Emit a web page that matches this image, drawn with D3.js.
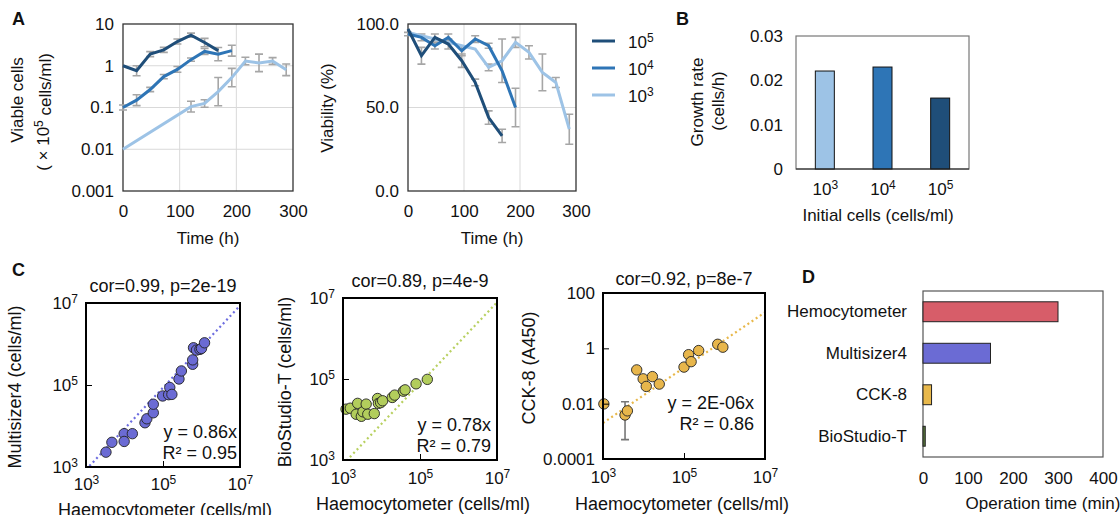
<!DOCTYPE html>
<html lang="en">
<head>
<meta charset="utf-8">
<title>Cell counting figure</title>
<script src="https://d3js.org/d3.v7.min.js"></script>
<style>
  body { margin: 0; background: #fff; }
  svg text { font-family: "Liberation Sans", Arial, sans-serif; fill: #111; }
  .tick line { stroke: #000; }
</style>
</head>
<body>
<div id="fig"></div>
<script>
// ---- panel A: growth curves ----
const timesA = [0, 24, 48, 72, 96, 120, 144, 168, 192, 216, 240, 264, 288];
const viableT5 = [0, 24, 48, 72, 96, 120, 144, 168];
const viable5 = [1.0, 0.76, 1.9, 2.4, 3.8, 5.4, 3.6, 2.3];
const viable5Err = [0, 0.12, 0.06, 0.06, 0.06, 0.05, 0.1, 0];      // log10 half-width
const viableT4 = [0, 24, 48, 72, 96, 120, 144, 168, 192];
const viable4 = [0.1, 0.15, 0.27, 0.55, 0.82, 1.4, 2.2, 1.9, 2.3];
const viable4Err = [0.06, 0.13, 0.05, 0.05, 0.07, 0.04, 0.07, 0.16, 0.13];
const viableT3 = [0, 120, 144, 168, 192, 216, 240, 264, 288];
const viable3 = [0.01, 0.105, 0.125, 0.24, 0.52, 1.3, 1.17, 1.3, 0.8];
const viable3Err = [0, 0.13, 0.09, 0.34, 0.22, 0.09, 0.21, 0.08, 0.14];

const viab5 = [97, 81, 92, 88, 78, 65, 44, 33];
const viab5Err = [0, 5, 2, 3, 4, 2, 4, 4];
const viab4 = [94, 92, 87, 92, 84, 91, 87, 72, 50];
const viab4Err = [1, 2, 2, 2, 3, 2, 1.5, 0, 11.5];
const viab3 = [95, 93, 91, 89, 87, 85, 74, 78, 89, 83, 71, 65, 37];
const viab3Err = [0, 0, 0, 0, 0, 0, 2, 13, 3, 4, 11, 3, 9];

const logTicksA = [0.001, 0.01, 0.1, 1, 10];
const logLabelsA = ["0.001", "0.01", "0.1", "1", "10"];
const timeTicks = [0, 100, 200, 300];
const viabTicks = [0, 50, 100];
const legendExp = ["5", "4", "3"];

// ---- panel B: growth rate ----
const initCells = ["3", "4", "5"];
const growthRate = [0.0221, 0.023, 0.016];
const rateTicks = [0, 0.01, 0.02, 0.03];
const rateLabels = ["0", "0.01", "0.02", "0.03"];

// ---- panel C: method comparison ----
const multiX = [3.3e3, 4.7e3, 9.8e3, 9.8e3, 1.6e4, 3.4e4, 3.8e4, 5.6e4, 5.6e4, 9.8e4, 1.4e5,
                1.5e5, 1.7e5, 2.6e5, 3.0e5, 5.9e5, 5.9e5, 6.2e5, 7.4e5, 9.1e5, 1.0e6, 1.2e6];
const multiY = [2.3e3, 4.0e3, 6.5e3, 4.2e3, 6.5e3, 1.2e4, 1.5e4, 2.1e4, 3.4e4, 5.4e4, 5.8e4,
                8.7e4, 5.9e4, 1.4e5, 2.2e5, 3.2e5, 4.1e5, 8.1e5, 7.1e5, 7.4e5, 7.8e5, 1.07e6];
const bioX = [1.2e3, 1.55e3, 2.2e3, 2.4e3, 3.0e3, 3.3e3, 4.0e3, 4.4e3, 6.5e3, 7.9e3,
              8.3e3, 9.5e3, 1.07e4, 1.9e4, 2.2e4, 3.7e4, 4.1e4, 7.9e4, 1.55e5];
const bioY = [1.8e4, 1.9e4, 1.35e4, 2.5e4, 1.2e4, 1.55e4, 2.4e4, 1.35e4, 1.4e4, 3.3e4,
              2.5e4, 2.6e4, 2.9e4, 3.5e4, 4.0e4, 5.0e4, 5.4e4, 7.6e4, 9.8e4];
const cckX = [1.05e3, 3.5e3, 4.0e3, 6.8e3, 9.8e3, 1.17e4, 1.66e4, 2.45e4, 1.0e5, 1.3e5,
              1.5e5, 2.3e5, 6.8e5, 9.1e5];
const cckY = [0.0098, 0.0039, 0.0055, 0.166, 0.079, 0.042, 0.095, 0.051, 0.21, 0.59,
              0.33, 0.83, 1.4, 1.1];
const cckErrLo = [null, 0.0005, null, null, null, null, null, null, null, null, null, null, null, null];
const cckErrHi = [null, 0.0118, null, null, null, null, null, null, null, null, null, null, null, null];
const slopes = [0.86, 0.78, 2e-6];
const cellTicks = [1e3, 1e5, 1e7];
const cellExp = ["3", "5", "7"];
const cckTicks = [1e-4, 1e-2, 1, 100];
const cckLabels = ["0.0001", "0.01", "1", "100"];

// ---- panel D: operation time ----
const methods = ["Hemocytometer", "Multisizer4", "CCK-8", "BioStudio-T"];
const opTime = [300, 150, 19, 5];
const opTicks = [0, 100, 200, 300, 400];

const blues = {"5": "#1f4e79", "4": "#2e75b6", "3": "#9dc3e6"};
const methodColor = ["#d75d69", "#6b6bd4", "#e8b84b", "#5a7a3c"];

const svg = d3.select("#fig").append("svg")
  .attr("width", 1120).attr("height", 515)
  .style("font-size", "17px");

const FS = 17;

function letter(x, y, t) {
  svg.append("text").attr("x", x).attr("y", y).text(t)
    .style("font-weight", "bold").style("font-size", "18px");
}

function sup(textSel, base, exp) {
  textSel.text(null);
  textSel.append("tspan").text(base);
  textSel.append("tspan").text(exp).attr("dy", "-0.5em").style("font-size", "12px");
}

function yTitle(x, y, lines) {
  const t = svg.append("text")
    .attr("transform", `translate(${x},${y}) rotate(-90)`)
    .attr("text-anchor", "middle").attr("dy", "0.35em");
  lines(t);
}

// =================== A left ===================
const xA1 = d3.scaleLinear().domain([0, 300]).range([123, 293]);
const yA1 = d3.scaleLog().domain([0.001, 10]).range([191, 24]);

const gA1 = svg.append("g");
gA1.selectAll("line.hg").data(logTicksA.slice(1, -1)).join("line")
  .attr("x1", 123).attr("x2", 293).attr("y1", d => yA1(d)).attr("y2", d => yA1(d))
  .attr("stroke", "#d9d9d9");
gA1.selectAll("line.vg").data(timeTicks.slice(1, -1)).join("line")
  .attr("y1", 24).attr("y2", 191).attr("x1", d => xA1(d)).attr("x2", d => xA1(d))
  .attr("stroke", "#d9d9d9");
gA1.append("rect").attr("x", 123).attr("y", 24).attr("width", 170).attr("height", 167)
  .attr("fill", "none").attr("stroke", "#333").attr("stroke-width", 1.3);

gA1.append("g").attr("transform", "translate(123,0)")
  .call(d3.axisLeft(yA1).tickValues(logTicksA).tickFormat((d, i) => logLabelsA[i]).tickSize(0).tickPadding(9))
  .call(g => g.select(".domain").remove())
  .selectAll("text").style("font-size", FS + "px").attr("fill", "#111");
gA1.append("g").attr("transform", "translate(0,191)")
  .call(d3.axisBottom(xA1).tickValues(timeTicks).tickSize(0).tickPadding(14))
  .call(g => g.select(".domain").remove())
  .selectAll("text").style("font-size", FS + "px").attr("fill", "#111");

const lineA1 = d3.line().x(d => xA1(d[0])).y(d => yA1(d[1]));
const seriesA1 = [
  {k: "3", t: viableT3, v: viable3, e: viable3Err},
  {k: "4", t: viableT4, v: viable4, e: viable4Err},
  {k: "5", t: viableT5, v: viable5, e: viable5Err}
];
seriesA1.forEach(s => {
  s.t.forEach((t, i) => {
    if (!s.e[i]) return;
    const x = xA1(t), lo = yA1(s.v[i] / Math.pow(10, s.e[i])), hi = yA1(s.v[i] * Math.pow(10, s.e[i]));
    gA1.append("path").attr("d", `M${x},${lo}V${hi}M${x - 4},${lo}H${x + 4}M${x - 4},${hi}H${x + 4}`)
      .attr("stroke", "#a6a6a6").attr("stroke-width", 1.6).attr("fill", "none");
  });
});
seriesA1.forEach(s => {
  gA1.append("path").datum(s.t.map((t, i) => [t, s.v[i]])).attr("d", lineA1)
    .attr("fill", "none").attr("stroke", blues[s.k]).attr("stroke-width", 3);
});

svg.append("text").attr("x", xA1(150)).attr("y", 244).attr("text-anchor", "middle").text("Time (h)");
yTitle(17, 100, t => t.text("Viable cells"));
yTitle(43, 112, t => {
  t.append("tspan").text("( \u00d7 10");
  t.append("tspan").text("5").attr("dy", "-0.5em").style("font-size", "12px");
  t.append("tspan").text(" cells/ml)").attr("dy", "0.5em");
});
letter(12, 25, "A");

// =================== A right ===================
const xA2 = d3.scaleLinear().domain([0, 300]).range([408, 576]);
const yA2 = d3.scaleLinear().domain([0, 100]).range([191, 24]);
const gA2 = svg.append("g");
gA2.append("line").attr("x1", 408).attr("x2", 576).attr("y1", yA2(50)).attr("y2", yA2(50)).attr("stroke", "#d9d9d9");
gA2.selectAll("line.vg").data(timeTicks.slice(1, -1)).join("line")
  .attr("y1", 24).attr("y2", 191).attr("x1", d => xA2(d)).attr("x2", d => xA2(d)).attr("stroke", "#d9d9d9");
gA2.append("rect").attr("x", 408).attr("y", 24).attr("width", 168).attr("height", 167)
  .attr("fill", "none").attr("stroke", "#333").attr("stroke-width", 1.3);
gA2.append("g").attr("transform", "translate(408,0)")
  .call(d3.axisLeft(yA2).tickValues(viabTicks).tickFormat(d3.format(".1f")).tickSize(0).tickPadding(9))
  .call(g => g.select(".domain").remove())
  .selectAll("text").style("font-size", FS + "px").attr("fill", "#111");
gA2.append("g").attr("transform", "translate(0,191)")
  .call(d3.axisBottom(xA2).tickValues(timeTicks).tickSize(0).tickPadding(14))
  .call(g => g.select(".domain").remove())
  .selectAll("text").style("font-size", FS + "px").attr("fill", "#111");

const lineA2 = d3.line().x(d => xA2(d[0])).y(d => yA2(d[1]));
const seriesA2 = [
  {k: "3", v: viab3, e: viab3Err},
  {k: "4", v: viab4, e: viab4Err},
  {k: "5", v: viab5, e: viab5Err}
];
seriesA2.forEach(s => {
  s.v.forEach((v, i) => {
    if (!s.e[i]) return;
    const x = xA2(timesA[i]), lo = yA2(v - s.e[i]), hi = yA2(v + s.e[i]);
    gA2.append("path").attr("d", `M${x},${lo}V${hi}M${x - 4},${lo}H${x + 4}M${x - 4},${hi}H${x + 4}`)
      .attr("stroke", "#a6a6a6").attr("stroke-width", 1.6).attr("fill", "none");
  });
});
seriesA2.forEach(s => {
  gA2.append("path").datum(s.v.map((v, i) => [timesA[i], v])).attr("d", lineA2)
    .attr("fill", "none").attr("stroke", blues[s.k]).attr("stroke-width", 3);
});
svg.append("text").attr("x", xA2(150)).attr("y", 244).attr("text-anchor", "middle").text("Time (h)");
yTitle(327, 108, t => t.text("Viability (%)"));

// legend
legendExp.forEach((e, i) => {
  const y = 41 + i * 27;
  svg.append("line").attr("x1", 592).attr("x2", 615).attr("y1", y).attr("y2", y)
    .attr("stroke", blues[e]).attr("stroke-width", 3);
  const t = svg.append("text").attr("x", 628).attr("y", y).attr("dy", "0.4em");
  sup(t, "10", e);
});

// =================== B ===================
const xB = d3.scalePoint().domain(initCells).range([796, 969]).padding(0.5);
const yB = d3.scaleLinear().domain([0, 0.03]).range([169, 36]);
const gB = svg.append("g");
gB.append("rect").attr("x", 796).attr("y", 36).attr("width", 173).attr("height", 133)
  .attr("fill", "none").attr("stroke", "#777").attr("stroke-width", 1.2);
gB.selectAll("rect.bar").data(initCells).join("rect")
  .attr("x", d => xB(d) - 9.5).attr("width", 19)
  .attr("y", (d, i) => yB(growthRate[i])).attr("height", (d, i) => 169 - yB(growthRate[i]))
  .attr("fill", d => blues[d]).attr("stroke", "#111").attr("stroke-width", 1);
gB.append("line").attr("x1", 796).attr("x2", 969).attr("y1", 169).attr("y2", 169).attr("stroke", "#222");
gB.append("g").attr("transform", "translate(796,0)")
  .call(d3.axisLeft(yB).tickValues(rateTicks).tickFormat((d, i) => rateLabels[i]).tickSize(0).tickPadding(13))
  .call(g => g.select(".domain").remove())
  .selectAll("text").style("font-size", FS + "px").attr("fill", "#111");
gB.append("g").attr("transform", "translate(0,169)")
  .call(d3.axisBottom(xB).tickSize(0).tickPadding(14))
  .call(g => g.select(".domain").remove())
  .selectAll("text").style("font-size", FS + "px").attr("fill", "#111")
  .each(function(d) { sup(d3.select(this), "10", d); });
svg.append("text").attr("x", 878).attr("y", 221).attr("text-anchor", "middle").text("Initial cells (cells/ml)");
yTitle(697, 102, t => t.text("Growth rate"));
yTitle(718, 101, t => t.text("(cells/h)"));
letter(676, 25, "B");

// =================== C ===================
function scatterPanel(o) {
  const x = d3.scaleLog().domain([1e3, 1e7]).range([o.x0, o.x1]);
  const y = d3.scaleLog().domain(o.yDomain).range([o.y1, o.y0]);
  const g = svg.append("g");
  const cid = "clip" + o.id;
  g.append("clipPath").attr("id", cid).append("rect")
    .attr("x", o.x0).attr("y", o.y0).attr("width", o.x1 - o.x0).attr("height", o.y1 - o.y0);

  g.append("line").attr("clip-path", `url(#${cid})`)
    .attr("x1", x(1e3)).attr("y1", y(o.slope * 1e3))
    .attr("x2", x(1e7)).attr("y2", y(o.slope * 1e7))
    .attr("stroke", o.line).attr("stroke-width", 2.2).attr("stroke-dasharray", "2,3");

  if (o.errLo) {
    o.xs.forEach((v, i) => {
      if (o.errLo[i] == null) return;
      const cx = x(v), lo = y(o.errLo[i]), hi = y(o.errHi[i]);
      g.append("path").attr("d", `M${cx},${lo}V${hi}M${cx - 4},${lo}H${cx + 4}M${cx - 4},${hi}H${cx + 4}`)
        .attr("stroke", "#777").attr("stroke-width", 1.6).attr("fill", "none");
    });
  }
  g.selectAll("circle").data(o.xs).join("circle")
    .attr("cx", d => x(d)).attr("cy", (d, i) => y(o.ys[i])).attr("r", 5.2)
    .attr("fill", o.fill).attr("stroke", "#222").attr("stroke-width", 0.9);

  g.append("g").attr("transform", `translate(${o.x0},0)`)
    .call(d3.axisLeft(y).tickValues(o.yTicks).tickSizeInner(-6).tickSizeOuter(0).tickPadding(8))
    .call(a => a.select(".domain").remove())
    .selectAll("text").style("font-size", FS + "px").attr("fill", "#111")
    .each(function(d, i) {
      if (o.yExp) sup(d3.select(this), "10", o.yExp[i]);
      else d3.select(this).text(o.yLabels[i]);
    });
  g.append("g").attr("transform", `translate(0,${o.y1})`)
    .call(d3.axisBottom(x).tickValues(cellTicks).tickSizeInner(-6).tickSizeOuter(0).tickPadding(o.xPad))
    .call(a => a.select(".domain").remove())
    .selectAll("text").style("font-size", FS + "px").attr("fill", "#111")
    .each(function(d, i) { sup(d3.select(this), "10", cellExp[i]); });

  g.append("rect").attr("x", o.x0).attr("y", o.y0).attr("width", o.x1 - o.x0).attr("height", o.y1 - o.y0)
    .attr("fill", "none").attr("stroke", "#000").attr("stroke-width", 2);

  svg.append("text").attr("x", (o.x0 + o.x1) / 2).attr("y", o.titleY)
    .attr("text-anchor", "middle").style("font-size", "18px").text(o.title);
  svg.append("text").attr("x", o.annX).attr("y", o.annY).attr("text-anchor", "end")
    .style("font-size", "18px").text(o.eq);
  svg.append("text").attr("x", o.annX).attr("y", o.annY + 21).attr("text-anchor", "end")
    .style("font-size", "18px").text(o.r2);
  svg.append("text").attr("x", o.xTitleX).attr("y", o.xTitleY)
    .attr("text-anchor", "middle").style("font-size", "18px").text("Haemocytometer (cells/ml)");
  yTitle(o.yTitleX, o.yTitleY, t => t.style("font-size", "18px").text(o.yTitle));
}

scatterPanel({id: 1, x0: 86, x1: 240, y0: 303, y1: 467, yDomain: [1e3, 1e7],
  xs: multiX, ys: multiY, slope: slopes[0], fill: "#6b6bd4", line: "#6d6de0",
  yTicks: cellTicks, yExp: cellExp, xPad: 11,
  title: "cor=0.99, p=2e-19", titleY: 292, eq: "y = 0.86x", r2: "R\u00b2 = 0.95", annX: 237, annY: 438,
  xTitleX: 165, xTitleY: 516, yTitle: "Multisizer4 (cells/ml)", yTitleX: 15, yTitleY: 387});
scatterPanel({id: 2, x0: 343, x1: 497, y0: 298, y1: 460, yDomain: [1e3, 1e7],
  xs: bioX, ys: bioY, slope: slopes[1], fill: "#b2cd5c", line: "#b8d060",
  yTicks: cellTicks, yExp: cellExp, xPad: 12,
  title: "cor=0.89, p=4e-9", titleY: 287, eq: "y = 0.78x", r2: "R\u00b2 = 0.79", annX: 491, annY: 431,
  xTitleX: 423, xTitleY: 510, yTitle: "BioStudio-T (cells/ml)", yTitleX: 285, yTitleY: 382});
scatterPanel({id: 3, x0: 603, x1: 765, y0: 293, y1: 459, yDomain: [1e-4, 100],
  xs: cckX, ys: cckY, slope: slopes[2], fill: "#e8b64b", line: "#e8b84a",
  errLo: cckErrLo, errHi: cckErrHi,
  yTicks: cckTicks, yLabels: cckLabels, xPad: 12,
  title: "cor=0.92, p=8e-7", titleY: 285, eq: "y = 2E-06x", r2: "R\u00b2 = 0.86", annX: 754, annY: 409,
  xTitleX: 682, xTitleY: 510, yTitle: "CCK-8 (A450)", yTitleX: 529, yTitleY: 368});
letter(12, 276, "C");

// =================== D ===================
const xD = d3.scaleLinear().domain([0, 400]).range([923, 1103]);
const yD = d3.scaleBand().domain(methods).range([291, 457]).paddingInner(0.52).paddingOuter(0.26);
const gD = svg.append("g");
gD.append("rect").attr("x", 923).attr("y", 291).attr("width", 180).attr("height", 166)
  .attr("fill", "none").attr("stroke", "#555").attr("stroke-width", 1.2);
gD.selectAll("rect.bar").data(methods).join("rect")
  .attr("x", 923).attr("y", d => yD(d)).attr("height", yD.bandwidth())
  .attr("width", (d, i) => xD(opTime[i]) - 923)
  .attr("fill", (d, i) => methodColor[i]).attr("stroke", "#222").attr("stroke-width", 1);
gD.append("g").attr("transform", "translate(923,0)")
  .call(d3.axisLeft(yD).tickSize(0).tickPadding(16))
  .call(g => g.select(".domain").remove())
  .selectAll("text").style("font-size", FS + "px").attr("fill", "#111");
gD.append("g").attr("transform", "translate(0,457)")
  .call(d3.axisBottom(xD).tickValues(opTicks).tickSize(0).tickPadding(15))
  .call(g => g.select(".domain").remove())
  .selectAll("text").style("font-size", FS + "px").attr("fill", "#111");
svg.append("text").attr("x", 1043).attr("y", 509).attr("text-anchor", "middle").text("Operation time (min)");
letter(802, 283, "D");
</script>
</body>
</html>
